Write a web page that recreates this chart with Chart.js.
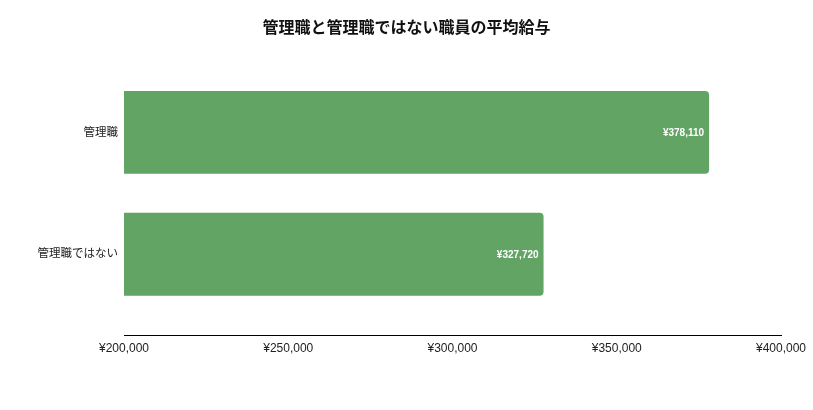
<!DOCTYPE html>
<html>
<head>
<meta charset="utf-8">
<script src="https://cdn.jsdelivr.net/npm/chart.js@4/dist/chart.umd.min.js"></script>
<style>
  html, body { margin: 0; padding: 0; background: #ffffff; }
  #wrap { width: 813px; height: 410px; }
</style>
</head>
<body>
<div id="wrap"><canvas id="c" width="813" height="410"></canvas></div>
<script>
const chartTitle = '管理職と管理職ではない職員の平均給与';
const categories = ['管理職', '管理職ではない'];
const salaries = [378110, 327720];
const xTicks = [200000, 250000, 300000, 350000, 400000];

const FONT = "'Liberation Sans', Arial, 'Noto Sans CJK JP', sans-serif";
const yen = v => '¥' + Number(v).toLocaleString('en-US');

const valueLabels = {
  id: 'valueLabels',
  afterDatasetsDraw(chart) {
    const ctx = chart.ctx;
    const meta = chart.getDatasetMeta(0);
    ctx.save();
    ctx.font = 'bold 10px ' + FONT;
    ctx.fillStyle = '#ffffff';
    ctx.textAlign = 'right';
    ctx.textBaseline = 'middle';
    meta.data.forEach((el, i) => {
      ctx.fillText(yen(salaries[i]), el.x - 5, el.y + 1);
    });
    ctx.restore();
  }
};

new Chart(document.getElementById('c'), {
  type: 'bar',
  data: {
    datasets: [{
      data: salaries.map((v, i) => ({ x: v, y: i })),
      backgroundColor: '#62a463',
      borderRadius: 4,
      borderSkipped: 'start',
      categoryPercentage: 1,
      barPercentage: 0.68
    }]
  },
  options: {
    indexAxis: 'y',
    responsive: false,
    animation: false,
    devicePixelRatio: 1,
    layout: { padding: { left: 32, right: 32, top: 0, bottom: 48 } },
    plugins: {
      legend: { display: false },
      tooltip: { enabled: false },
      title: {
        display: true,
        text: chartTitle,
        color: '#111111',
        font: { family: FONT, size: 16, weight: 'bold' },
        padding: { top: 19, bottom: 33.3 }
      }
    },
    scales: {
      x: {
        type: 'linear',
        min: xTicks[0],
        max: xTicks[xTicks.length - 1],
        afterBuildTicks: s => { s.ticks = xTicks.map(v => ({ value: v })); },
        grid: { display: false, drawTicks: false },
        border: { display: true, color: '#000000', width: 1 },
        ticks: {
          padding: 6,
          color: '#222222',
          font: { family: FONT, size: 12 },
          maxRotation: 0,
          callback: v => yen(v)
        }
      },
      y: {
        type: 'linear',
        offset: false,
        reverse: true,
        min: -0.5,
        max: 1.668,
        afterBuildTicks: s => { s.ticks = categories.map((c, i) => ({ value: i })); },
        afterFit: s => { s.width = 92; },
        grid: { display: false, drawTicks: false, offset: false },
        border: { display: false },
        ticks: {
          padding: 6,
          color: '#222222',
          font: { family: FONT, size: 11.5 },
          callback: v => categories[v]
        }
      }
    }
  },
  plugins: [valueLabels]
});
</script>
</body>
</html>
